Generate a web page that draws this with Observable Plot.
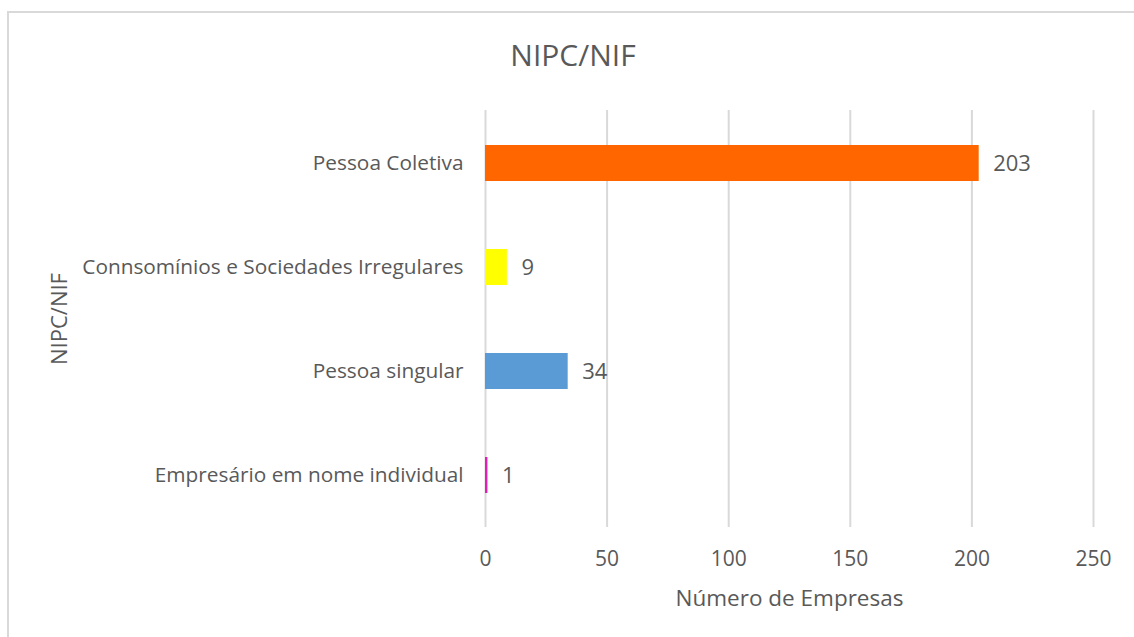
<!DOCTYPE html>
<html>
<head>
<meta charset="utf-8">
<script src="https://cdn.jsdelivr.net/npm/d3@7"></script>
<script src="https://cdn.jsdelivr.net/npm/@observablehq/plot@0.6"></script>
<style>
  html, body { margin: 0; padding: 0; background: #fff; }
  #wrap { position: relative; width: 1134px; height: 637px; overflow: hidden; background: #fff; font-family: "Open Sans", sans-serif; }
  #border { position: absolute; left: 7px; top: 11px; width: 1200px; height: 700px; border: 2px solid #d9d9d9; box-sizing: border-box; }
  #title { position: absolute; left: 573px; top: 37px; transform: translateX(-50%); font-size: 30px; line-height: 36px; color: #595959; white-space: nowrap; }
  #chart { position: absolute; left: 0; top: 100px; }
</style>
</head>
<body>
<div id="wrap">
  <div id="border"></div>
  <div id="title"></div>
  <div id="chart"></div>
</div>
<script>
const title = "NIPC/NIF";
const categories = ["Pessoa Coletiva", "Connsomínios e Sociedades Irregulares", "Pessoa singular", "Empresário em nome individual"];
const values = [203, 9, 34, 1];
const barColors = ["#FF6600", "#FFFF00", "#5B9BD5", "#E020B0"];
const xTicks = [0, 50, 100, 150, 200, 250];
const xLabel = "Número de Empresas";
const yLabel = "NIPC/NIF";

const data = categories.map((c, i) => ({category: c, value: values[i]}));

document.getElementById("title").textContent = title;

const chart = Plot.plot({
  width: 1134,
  height: 537,
  marginLeft: 485,
  marginRight: 41,
  marginTop: 10,
  marginBottom: 110,
  style: {fontFamily: "Open Sans, sans-serif", color: "#595959", background: "transparent", overflow: "visible"},
  x: {domain: [0, 250], ticks: xTicks},
  y: {domain: categories, paddingInner: 0.655, paddingOuter: 0.3275},
  color: {domain: categories, range: barColors},
  marks: [
    Plot.gridX(xTicks, {stroke: "#d9d9d9", strokeWidth: 2, strokeOpacity: 1}),
    Plot.barX(data, {x: "value", y: "category", fill: "category"}),
    Plot.text(data, {x: "value", y: "category", text: d => String(d.value), textAnchor: "start", dx: 14, fontSize: 22, fill: "#595959"}),
    Plot.axisX({ticks: xTicks, tickSize: 0, tickPadding: 24, fontSize: 21, label: null}),
    Plot.axisY({tickSize: 0, tickPadding: 22, fontSize: 20.8, label: null}),
    Plot.text([xLabel], {frameAnchor: "bottom", dy: 71, fontSize: 22.5, textAnchor: "middle", lineAnchor: "middle", fill: "#595959"}),
    Plot.text([yLabel], {frameAnchor: "left", dx: -426, rotate: -90, fontSize: 22, textAnchor: "middle", lineAnchor: "middle", fill: "#595959"})
  ]
});
document.getElementById("chart").appendChild(chart);
</script>
</body>
</html>
